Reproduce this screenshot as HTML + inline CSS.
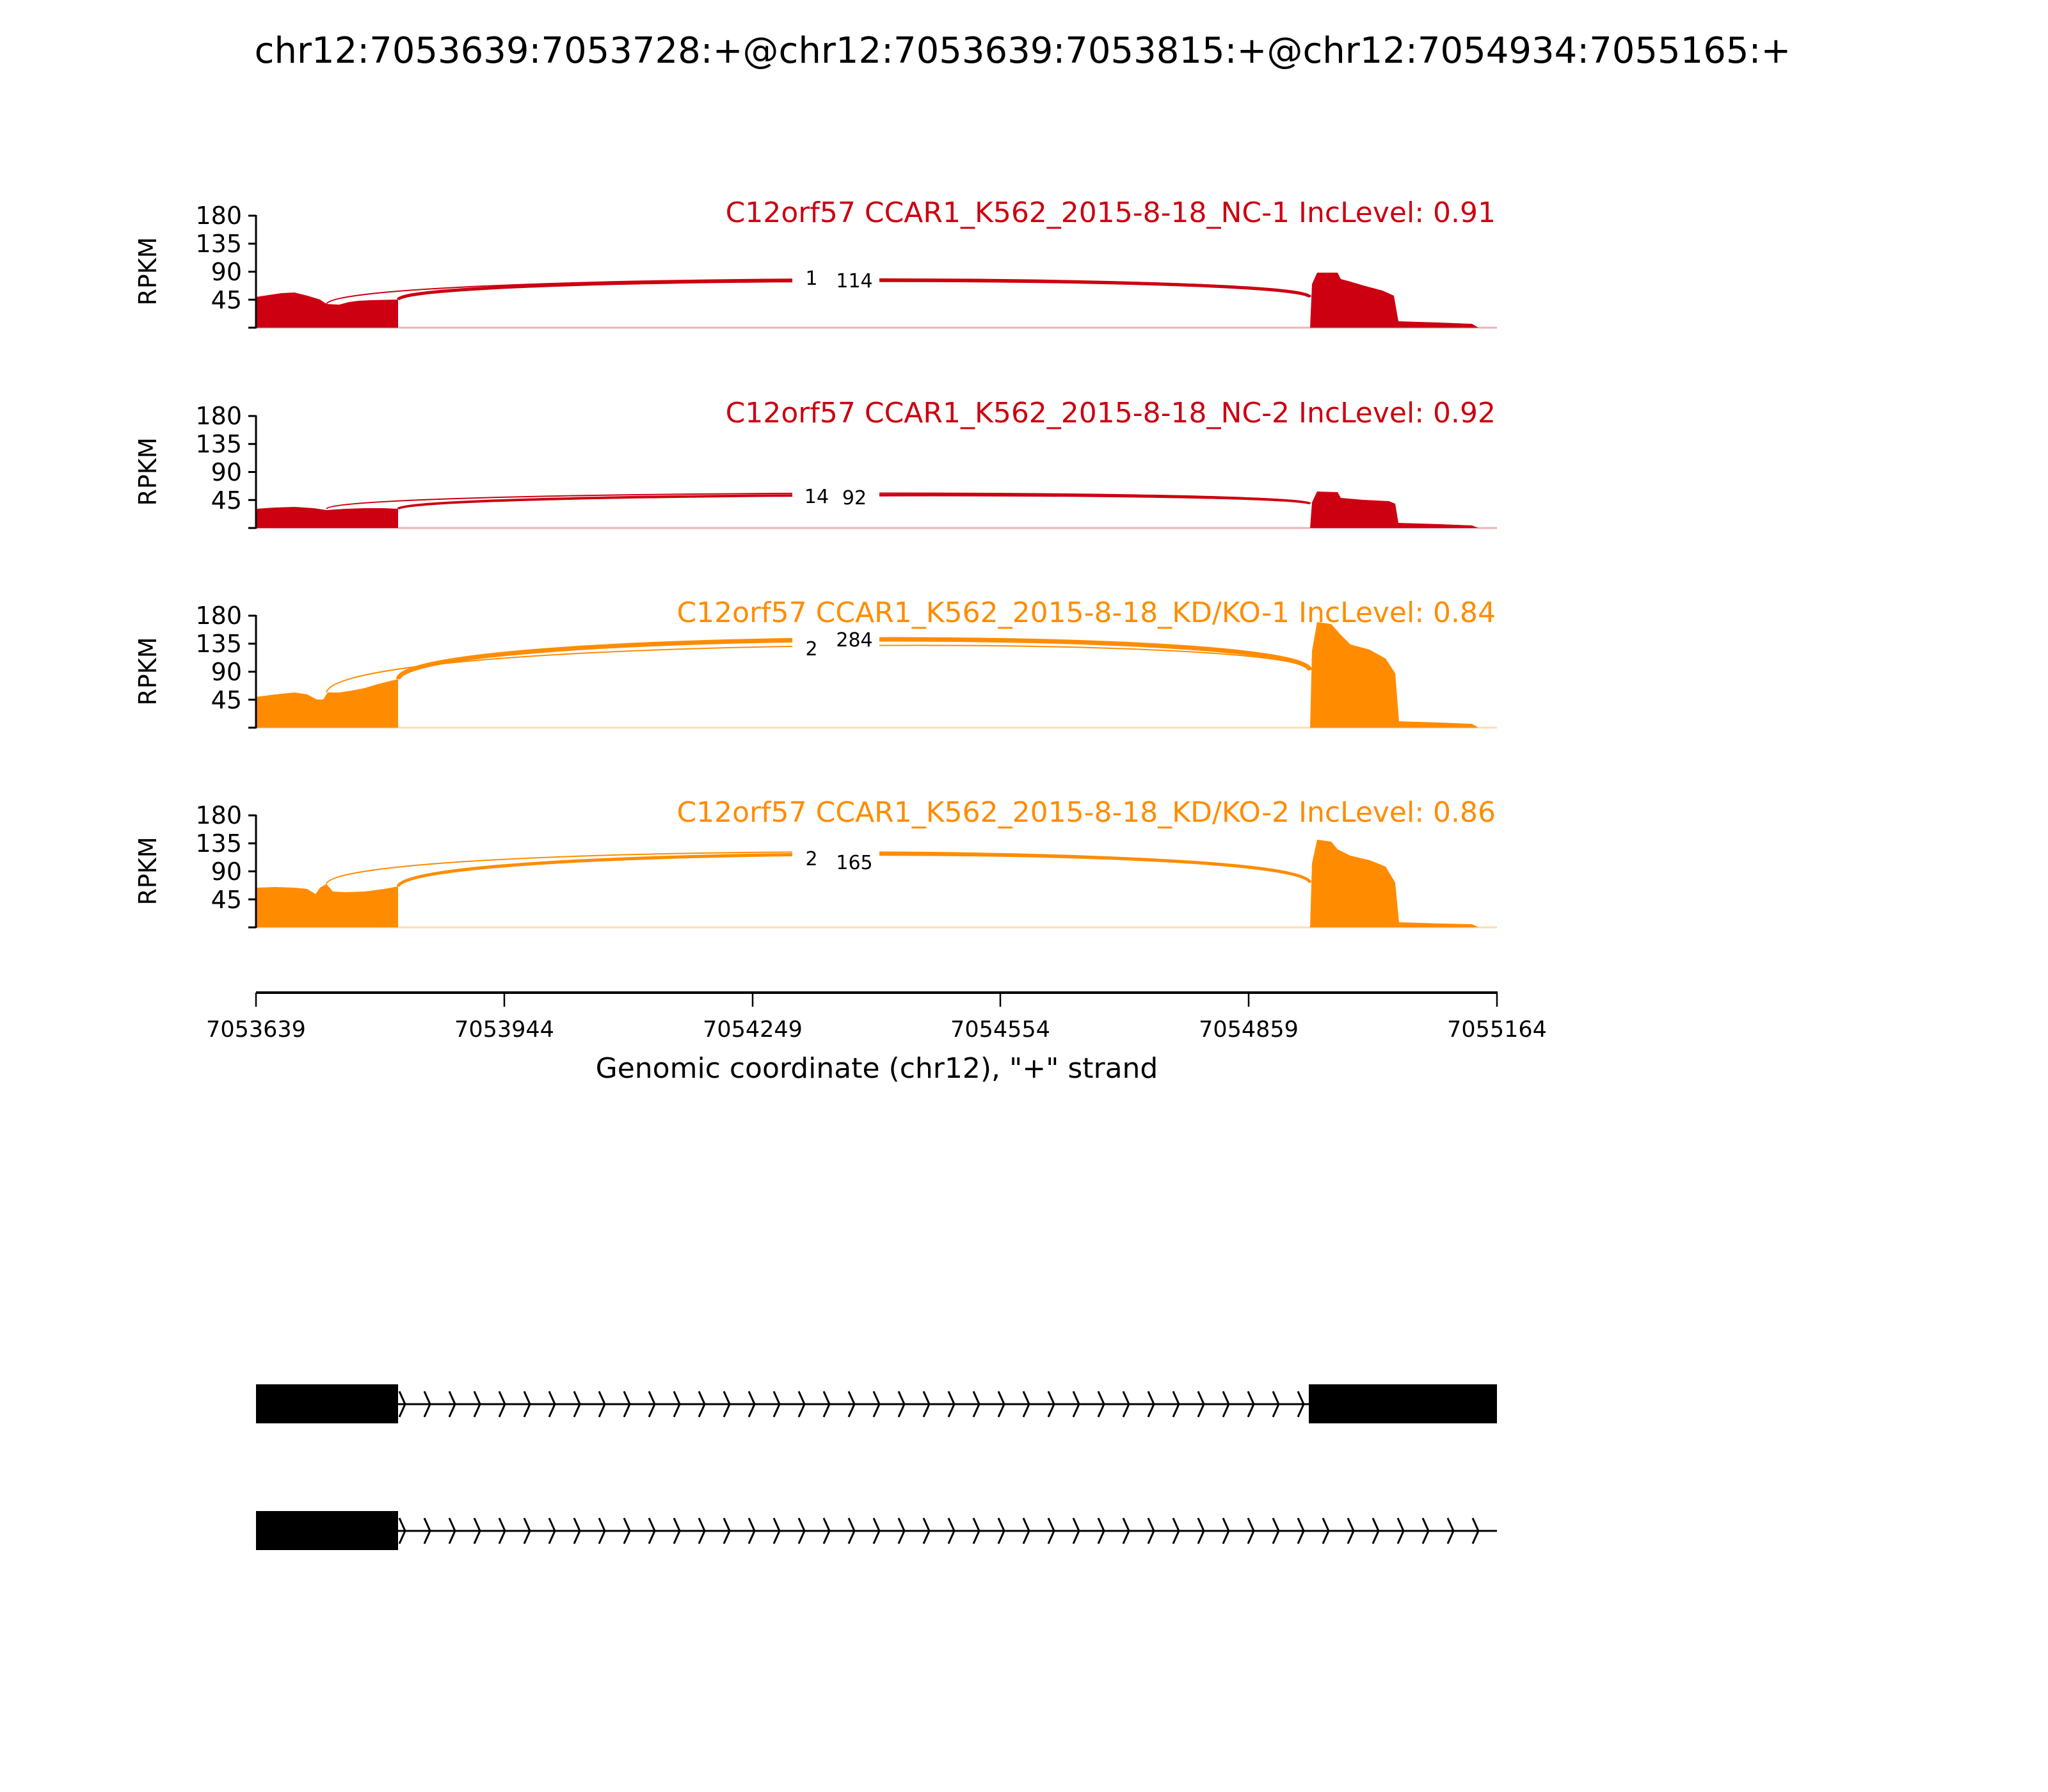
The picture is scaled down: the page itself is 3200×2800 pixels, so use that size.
<!DOCTYPE html>
<html><head><meta charset="utf-8"><style>
html,body{margin:0;padding:0;background:#fff;}
svg{display:block;}
text{font-family:"DejaVu Sans","Liberation Sans",sans-serif;}
</style></head><body>
<svg width="3200" height="2800" viewBox="0 0 3200 2800" xmlns="http://www.w3.org/2000/svg">
<rect width="3200" height="2800" fill="#fff"/>
<text x="1598" y="98" font-size="56" text-anchor="middle">chr12:7053639:7053728:+@chr12:7053639:7053815:+@chr12:7054934:7055165:+</text>

<!-- Panel 1 -->
<g transform="translate(0,512)">
 <path d="M400,0 L400,-48 420,-51 440,-54 460,-55 480,-50 500,-44 510,-37 530,-36 545,-40 560,-42 580,-43 622,-44 622,0Z" fill="#CC0011"/>
 <path d="M2047,0 L2050,-68 2058,-86 2090,-86 2095,-76 2110,-72 2130,-66 2160,-58 2178,-50 2185,-10 2250,-8 2300,-6 2310,0Z" fill="#CC0011"/>
 <path d="M400,0 H2339" stroke="#CC0011" stroke-opacity="0.3" stroke-width="3"/>
 <path d="M510,-37 C530,-86 2030,-88 2047,-48" fill="none" stroke="#CC0011" stroke-width="2"/>
 <path d="M622,-44 C640,-82 2030,-84 2047,-48" fill="none" stroke="#CC0011" stroke-width="5"/>
 <rect x="1238" y="-100" width="136" height="44" fill="#fff"/>
 <text x="1268" y="-67" font-size="30" text-anchor="middle">1</text>
 <text x="1335" y="-63" font-size="30" text-anchor="middle">114</text>
 <text x="2337" y="-165" font-size="44" text-anchor="end" fill="#CC0011">C12orf57 CCAR1_K562_2015-8-18_NC-1 IncLevel: 0.91</text>
</g>

<!-- Panel 2 -->
<g transform="translate(0,825)">
 <path d="M400,0 L400,-30 430,-32 460,-33 490,-31 510,-28 540,-30 570,-31 600,-31 622,-30 622,0Z" fill="#CC0011"/>
 <path d="M2047,0 L2050,-40 2058,-57 2090,-56 2095,-47 2130,-44 2170,-42 2180,-38 2185,-8 2250,-6 2300,-4 2310,0Z" fill="#CC0011"/>
 <path d="M400,0 H2339" stroke="#CC0011" stroke-opacity="0.3" stroke-width="3"/>
 <path d="M510,-30 C530,-60 2030,-62 2047,-38" fill="none" stroke="#CC0011" stroke-width="2"/>
 <path d="M622,-30 C640,-56 2030,-58 2047,-38" fill="none" stroke="#CC0011" stroke-width="4"/>
 <rect x="1238" y="-72" width="136" height="44" fill="#fff"/>
 <text x="1276" y="-39" font-size="30" text-anchor="middle">14</text>
 <text x="1335" y="-37" font-size="30" text-anchor="middle">92</text>
 <text x="2337" y="-165" font-size="44" text-anchor="end" fill="#CC0011">C12orf57 CCAR1_K562_2015-8-18_NC-2 IncLevel: 0.92</text>
</g>

<!-- Panel 3 -->
<g transform="translate(0,1137)">
 <path d="M400,0 L400,-48 430,-52 460,-55 480,-52 495,-44 505,-44 512,-55 530,-55 550,-58 570,-62 590,-68 622,-76 622,0Z" fill="#FF8C00"/>
 <path d="M2047,0 L2050,-120 2058,-165 2080,-162 2095,-145 2110,-130 2140,-122 2165,-108 2180,-85 2186,-10 2250,-8 2300,-6 2310,0Z" fill="#FF8C00"/>
 <path d="M400,0 H2339" stroke="#FF8C00" stroke-opacity="0.3" stroke-width="3"/>
 <path d="M510,-55 C530,-144 2030,-148 2047,-90" fill="none" stroke="#FF8C00" stroke-width="2"/>
 <path d="M622,-76 C640,-154 2030,-158 2047,-90" fill="none" stroke="#FF8C00" stroke-width="7"/>
 <rect x="1238" y="-156" width="136" height="50" fill="#fff"/>
 <text x="1268" y="-113" font-size="30" text-anchor="middle">2</text>
 <text x="1335" y="-127" font-size="30" text-anchor="middle">284</text>
 <text x="2337" y="-165" font-size="44" text-anchor="end" fill="#FF8C00">C12orf57 CCAR1_K562_2015-8-18_KD/KO-1 IncLevel: 0.84</text>
</g>

<!-- Panel 4 -->
<g transform="translate(0,1449)">
 <path d="M400,0 L400,-62 430,-63 460,-62 480,-60 493,-52 500,-62 510,-68 520,-56 540,-55 570,-56 600,-60 622,-64 622,0Z" fill="#FF8C00"/>
 <path d="M2047,0 L2050,-100 2058,-137 2080,-134 2090,-122 2110,-112 2140,-105 2165,-95 2180,-70 2186,-8 2250,-6 2300,-5 2310,0Z" fill="#FF8C00"/>
 <path d="M400,0 H2339" stroke="#FF8C00" stroke-opacity="0.3" stroke-width="3"/>
 <path d="M510,-68 C530,-132 2030,-136 2047,-70" fill="none" stroke="#FF8C00" stroke-width="2"/>
 <path d="M622,-64 C640,-128 2030,-132 2047,-70" fill="none" stroke="#FF8C00" stroke-width="5"/>
 <rect x="1238" y="-130" width="136" height="46" fill="#fff"/>
 <text x="1268" y="-97" font-size="30" text-anchor="middle">2</text>
 <text x="1335" y="-91" font-size="30" text-anchor="middle">165</text>
 <text x="2337" y="-165" font-size="44" text-anchor="end" fill="#FF8C00">C12orf57 CCAR1_K562_2015-8-18_KD/KO-2 IncLevel: 0.86</text>
</g>

<!-- Y axes -->
<g>
<g transform="translate(0,512)">
 <path d="M400,1 V-176 M388,0 H400 M388,-43.75 H400 M388,-87.5 H400 M388,-131.25 H400 M388,-175 H400" stroke="#000" stroke-width="3" fill="none"/>
 <g font-size="38" text-anchor="end"><text x="378" y="-30">45</text><text x="378" y="-74">90</text><text x="378" y="-118">135</text><text x="378" y="-162">180</text></g>
 <text transform="translate(244,-88) rotate(-90)" font-size="38" text-anchor="middle">RPKM</text>
</g>
<g transform="translate(0,825)">
 <path d="M400,1 V-176 M388,0 H400 M388,-43.75 H400 M388,-87.5 H400 M388,-131.25 H400 M388,-175 H400" stroke="#000" stroke-width="3" fill="none"/>
 <g font-size="38" text-anchor="end"><text x="378" y="-30">45</text><text x="378" y="-74">90</text><text x="378" y="-118">135</text><text x="378" y="-162">180</text></g>
 <text transform="translate(244,-88) rotate(-90)" font-size="38" text-anchor="middle">RPKM</text>
</g>
<g transform="translate(0,1137)">
 <path d="M400,1 V-176 M388,0 H400 M388,-43.75 H400 M388,-87.5 H400 M388,-131.25 H400 M388,-175 H400" stroke="#000" stroke-width="3" fill="none"/>
 <g font-size="38" text-anchor="end"><text x="378" y="-30">45</text><text x="378" y="-74">90</text><text x="378" y="-118">135</text><text x="378" y="-162">180</text></g>
 <text transform="translate(244,-88) rotate(-90)" font-size="38" text-anchor="middle">RPKM</text>
</g>
<g transform="translate(0,1449)">
 <path d="M400,1 V-176 M388,0 H400 M388,-43.75 H400 M388,-87.5 H400 M388,-131.25 H400 M388,-175 H400" stroke="#000" stroke-width="3" fill="none"/>
 <g font-size="38" text-anchor="end"><text x="378" y="-30">45</text><text x="378" y="-74">90</text><text x="378" y="-118">135</text><text x="378" y="-162">180</text></g>
 <text transform="translate(244,-88) rotate(-90)" font-size="38" text-anchor="middle">RPKM</text>
</g>
</g>

<!-- X axis -->
<path d="M400,1551 H2340" stroke="#000" stroke-width="4"/>
<path d="M400,1551 V1573 M788,1551 V1573 M1176,1551 V1573 M1563,1551 V1573 M1951,1551 V1573 M2339,1551 V1573" stroke="#000" stroke-width="2.5"/>
<g font-size="35" text-anchor="middle">
<text x="400" y="1620">7053639</text><text x="788" y="1620">7053944</text><text x="1176" y="1620">7054249</text><text x="1563" y="1620">7054554</text><text x="1951" y="1620">7054859</text><text x="2339" y="1620">7055164</text>
</g>
<text x="1370" y="1684" font-size="44" text-anchor="middle">Genomic coordinate (chr12), "+" strand</text>

<!-- Gene model -->
<rect x="400" y="2163" width="222" height="61" fill="#000"/>
<rect x="2045" y="2163" width="294" height="61" fill="#000"/>
<path d="M622,2194 H2045" stroke="#000" stroke-width="3"/>
<rect x="400" y="2361" width="222" height="61" fill="#000"/>
<path d="M622,2392 H2339" stroke="#000" stroke-width="3"/>
<g fill="none" stroke="#000" stroke-width="3">
<path d="
M624,2174 l9,20 -9,20 M663,2174 l9,20 -9,20 M702,2174 l9,20 -9,20 M741,2174 l9,20 -9,20 M780,2174 l9,20 -9,20 M819,2174 l9,20 -9,20 M858,2174 l9,20 -9,20 M897,2174 l9,20 -9,20 M936,2174 l9,20 -9,20 M975,2174 l9,20 -9,20 M1014,2174 l9,20 -9,20 M1053,2174 l9,20 -9,20 M1092,2174 l9,20 -9,20 M1131,2174 l9,20 -9,20 M1170,2174 l9,20 -9,20 M1209,2174 l9,20 -9,20 M1248,2174 l9,20 -9,20 M1287,2174 l9,20 -9,20 M1326,2174 l9,20 -9,20 M1365,2174 l9,20 -9,20 M1404,2174 l9,20 -9,20 M1443,2174 l9,20 -9,20 M1482,2174 l9,20 -9,20 M1521,2174 l9,20 -9,20 M1560,2174 l9,20 -9,20 M1599,2174 l9,20 -9,20 M1638,2174 l9,20 -9,20 M1677,2174 l9,20 -9,20 M1716,2174 l9,20 -9,20 M1755,2174 l9,20 -9,20 M1794,2174 l9,20 -9,20 M1833,2174 l9,20 -9,20 M1872,2174 l9,20 -9,20 M1911,2174 l9,20 -9,20 M1950,2174 l9,20 -9,20 M1989,2174 l9,20 -9,20 M2028,2174 l9,20 -9,20
M624,2372 l9,20 -9,20 M663,2372 l9,20 -9,20 M702,2372 l9,20 -9,20 M741,2372 l9,20 -9,20 M780,2372 l9,20 -9,20 M819,2372 l9,20 -9,20 M858,2372 l9,20 -9,20 M897,2372 l9,20 -9,20 M936,2372 l9,20 -9,20 M975,2372 l9,20 -9,20 M1014,2372 l9,20 -9,20 M1053,2372 l9,20 -9,20 M1092,2372 l9,20 -9,20 M1131,2372 l9,20 -9,20 M1170,2372 l9,20 -9,20 M1209,2372 l9,20 -9,20 M1248,2372 l9,20 -9,20 M1287,2372 l9,20 -9,20 M1326,2372 l9,20 -9,20 M1365,2372 l9,20 -9,20 M1404,2372 l9,20 -9,20 M1443,2372 l9,20 -9,20 M1482,2372 l9,20 -9,20 M1521,2372 l9,20 -9,20 M1560,2372 l9,20 -9,20 M1599,2372 l9,20 -9,20 M1638,2372 l9,20 -9,20 M1677,2372 l9,20 -9,20 M1716,2372 l9,20 -9,20 M1755,2372 l9,20 -9,20 M1794,2372 l9,20 -9,20 M1833,2372 l9,20 -9,20 M1872,2372 l9,20 -9,20 M1911,2372 l9,20 -9,20 M1950,2372 l9,20 -9,20 M1989,2372 l9,20 -9,20 M2028,2372 l9,20 -9,20 M2067,2372 l9,20 -9,20 M2106,2372 l9,20 -9,20 M2145,2372 l9,20 -9,20 M2184,2372 l9,20 -9,20 M2223,2372 l9,20 -9,20 M2262,2372 l9,20 -9,20 M2301,2372 l9,20 -9,20"/>
</g>
</svg>
</body></html>
